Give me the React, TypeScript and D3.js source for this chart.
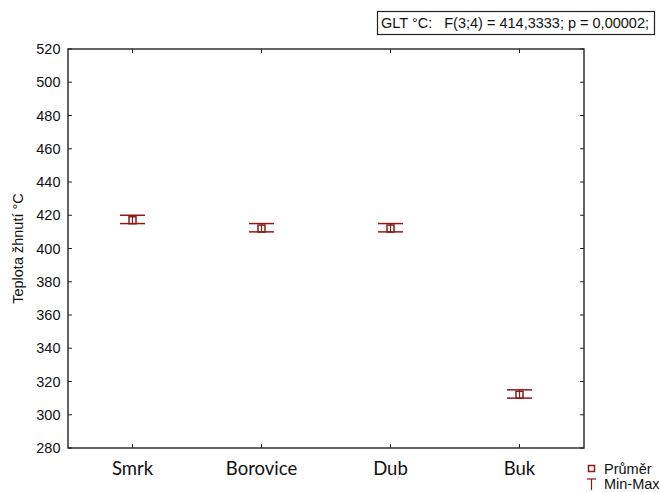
import React from "react";
import * as d3 from "d3";

const categories = ["Smrk", "Borovice", "Dub", "Buk"];
const means = [417, 412, 412, 312];
const mins = [415, 410, 410, 310];
const maxs = [420, 415, 415, 315];
const yTicks = [280, 300, 320, 340, 360, 380, 400, 420, 440, 460, 480, 500, 520];
const title = "GLT °C:   F(3;4) = 414,3333; p = 0,00002;";
const yLabel = "Teplota žhnutí °C";
const legendItems = ["Průměr", "Min-Max"];

const W = 661, H = 492;
const L = 68, R = 584, T = 49, B = 448;
const red = "#8b1a1a";

export default function App() {
  const x = d3.scalePoint<string>().domain(categories).range([L, R]).padding(0.5);
  const y = d3.scaleLinear().domain([280, 520]).range([B, T]);
  const font = "'Liberation Sans', Arial, sans-serif";
  const fs = 14.5;
  return (
    <svg width={W} height={H} style={{ position: "absolute", left: 0, top: 0, background: "#fff" }}>
      <rect x={0} y={0} width={W} height={H} fill="#fff" />
      {/* title box */}
      <rect x={377.5} y={11.5} width={277} height={23} fill="#fff" stroke="#222" strokeWidth={1.2} />
      <text x={381} y={27.5} fontFamily={font} fontSize={fs} textLength={268} lengthAdjust="spacingAndGlyphs" fill="#111" style={{ whiteSpace: "pre" }}>{title}</text>
      {/* frame */}
      <rect x={L} y={T} width={R - L} height={B - T} fill="none" stroke="#222" strokeWidth={1.4} />
      {yTicks.map((t) => (
        <g key={t}>
          <line x1={L} x2={L + 4} y1={y(t)} y2={y(t)} stroke="#222" strokeWidth={1} />
          <line x1={R - 4} x2={R} y1={y(t)} y2={y(t)} stroke="#222" strokeWidth={1} />
          <text x={60.5} y={y(t) + 5} textAnchor="end" fontFamily={font} fontSize={fs} fill="#111">{t}</text>
        </g>
      ))}
      {categories.map((c) => (
        <g key={c}>
          <line x1={x(c)} x2={x(c)} y1={B} y2={B - 4} stroke="#222" strokeWidth={1} />
          <line x1={x(c)} x2={x(c)} y1={T} y2={T + 4} stroke="#222" strokeWidth={1} />
          <text x={x(c)} y={475} textAnchor="middle" fontFamily="Lato, 'Open Sans', sans-serif" fontSize={18.5} fill="#111">{c}</text>
        </g>
      ))}
      <text transform={`translate(23,${(T + B) / 2}) rotate(-90)`} textAnchor="middle" fontFamily={font} fontSize={fs} fill="#111">{yLabel}</text>
      {/* whiskers */}
      {categories.map((c, i) => {
        const cx = x(c)!;
        return (
          <g key={c} stroke={red} fill="none">
            <line x1={cx - 12.5} x2={cx + 12.5} y1={y(maxs[i])} y2={y(maxs[i])} strokeWidth={1.5} />
            <line x1={cx - 12.5} x2={cx + 12.5} y1={y(mins[i])} y2={y(mins[i])} strokeWidth={1.5} />
            <line x1={cx} x2={cx} y1={y(maxs[i])} y2={y(mins[i])} strokeWidth={1.2} />
            <rect x={cx - 3.5} y={y(means[i]) - 3.5} width={7} height={7} strokeWidth={1.5} />
          </g>
        );
      })}
      {/* legend */}
      <rect x={588.5} y={465.5} width={6} height={6} fill="none" stroke={red} strokeWidth={1.5} />
      <text x={604} y={474} fontFamily={font} fontSize={fs} fill="#111">{legendItems[0]}</text>
      <line x1={587} x2={596} y1={479} y2={479} stroke={red} strokeWidth={1.2} />
      <line x1={591.5} x2={591.5} y1={479} y2={490} stroke={red} strokeWidth={1.2} />
      <text x={604} y={489} fontFamily={font} fontSize={fs} fill="#111">{legendItems[1]}</text>
    </svg>
  );
}
